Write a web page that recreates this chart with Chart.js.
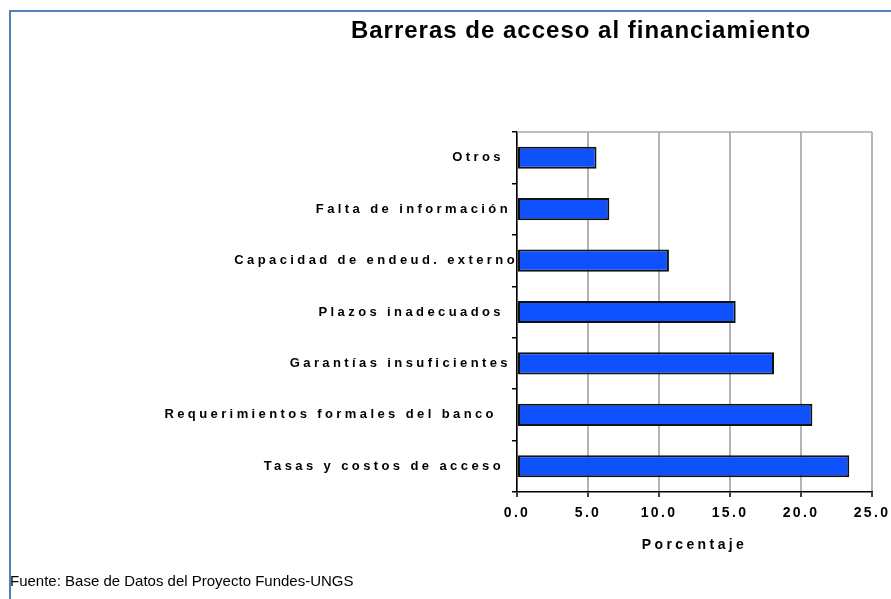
<!DOCTYPE html>
<html>
<head>
<meta charset="utf-8">
<script src="https://cdn.jsdelivr.net/npm/chart.js@4.4.1/dist/chart.umd.min.js"></script>
<style>
  html, body { margin: 0; padding: 0; background: #fff; }
  canvas { display: block; }
</style>
</head>
<body>
<canvas id="chart" width="891" height="599"></canvas>
<script>
// Data
const chartTitle = 'Barreras de acceso al financiamiento';
const sourceNote = 'Fuente: Base de Datos del Proyecto Fundes-UNGS';
const axisTitle = 'Porcentaje';
const categories = [
    'Otros  ',
    'Falta de información ',
    'Capacidad de endeud. externo',
    'Plazos inadecuados  ',
    'Garantías insuficientes ',
    'Requerimientos formales del banco   ',
    'Tasas y costos de acceso  '
];
const shares = [5.6, 6.5, 10.7, 15.4, 18.1, 20.8, 23.4];
const xTicks = [0, 5, 10, 15, 20, 25];

const FONT = '"Liberation Sans", Arial, sans-serif';
Chart.defaults.font.family = FONT;
Chart.defaults.color = '#000';

// frame, spaced axis text, title and source line
const decor = {
    id: 'decor',
    beforeDraw(chart) {
        const ctx = chart.ctx;
        ctx.save();
        ctx.fillStyle = '#4f81bd';
        ctx.fillRect(9, 10, 882, 2);
        ctx.fillRect(9, 10, 2, 589);
        ctx.restore();
        ctx.letterSpacing = '3.4px'; // category labels + axis title are widely spaced
    },
    beforeDatasetsDraw(chart) {
        const { ctx, chartArea: a } = chart;
        ctx.save();
        ctx.strokeStyle = '#a8a8a8';
        ctx.lineWidth = 1.5;
        ctx.beginPath();
        ctx.moveTo(a.left, a.top);
        ctx.lineTo(a.right, a.top);
        ctx.stroke();
        ctx.restore();
    },
    afterDatasetsDraw(chart) {
        chart.ctx.letterSpacing = '2.3px'; // x tick labels (drawn after bars, z: 1)
    },
    afterDraw(chart) {
        const ctx = chart.ctx;
        ctx.save();
        ctx.fillStyle = '#000';
        ctx.letterSpacing = '1px';
        ctx.font = 'bold 24px ' + FONT;
        ctx.textAlign = 'center';
        ctx.textBaseline = 'middle';
        ctx.fillText(chartTitle, 581, 31);
        ctx.letterSpacing = '0px';
        ctx.font = '15px ' + FONT;
        ctx.textAlign = 'left';
        ctx.fillText(sourceNote, 10, 582);
        ctx.restore();
        ctx.letterSpacing = '0px';
    }
};

const chart = new Chart(document.getElementById('chart'), {
    type: 'bar',
    data: {
        labels: categories,
        datasets: [{
            data: shares,
            backgroundColor: '#0f52fd',
            borderColor: '#111',
            borderWidth: 2,
            borderSkipped: false,
            barPercentage: 0.43,
            categoryPercentage: 1
        }]
    },
    options: {
        indexAxis: 'y',
        responsive: false,
        animation: false,
        events: [],
        layout: { padding: { top: 132, right: 19, bottom: 0, left: 0 } },
        plugins: {
            legend: { display: false },
            tooltip: { enabled: false }
        },
        scales: {
            x: {
                type: 'linear',
                min: xTicks[0],
                max: xTicks[xTicks.length - 1],
                ticks: {
                    stepSize: xTicks[1] - xTicks[0],
                    callback: v => v.toFixed(1),
                    font: { size: 14, weight: 'bold' },
                    padding: 8,
                    maxRotation: 0,
                    autoSkip: false,
                    z: 1
                },
                grid: { color: '#b4b4b4', lineWidth: 2, tickColor: '#000', tickLength: 5, tickWidth: 1.5 },
                border: { color: '#000', width: 1.5 },
                title: {
                    display: true,
                    text: axisTitle,
                    font: { size: 14, weight: 'bold' },
                    padding: { top: 0, bottom: 45 }
                },
                afterFit(scale) {
                    scale.height = 107;
                    scale.paddingLeft = 0;
                    scale.paddingRight = 0;
                }
            },
            y: {
                ticks: { font: { size: 13, weight: 'bold' }, padding: -6, autoSkip: false },
                grid: { drawOnChartArea: false, color: '#000', tickColor: '#000', tickLength: 5, lineWidth: 1.5 },
                border: { color: '#000', width: 1.5 },
                afterFit(scale) { scale.width = 517; }
            }
        }
    },
    plugins: [decor]
});
</script>
</body>
</html>
